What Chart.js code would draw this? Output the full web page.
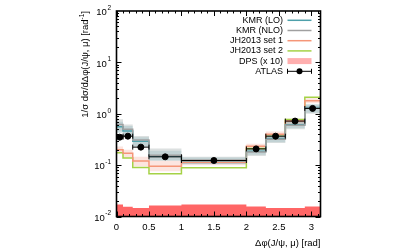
<!DOCTYPE html>
<html>
<head>
<meta charset="utf-8">
<script src="https://cdn.jsdelivr.net/npm/chart.js@4/dist/chart.umd.min.js"></script>
<style>
html,body{margin:0;padding:0;background:#fff;}
#wrap{width:414px;height:249px;}
</style>
</head>
<body>
<div id="wrap"><canvas id="c" width="414" height="249"></canvas></div>
<script>
// ---- data ----
const binEdges = [0, 0.1, 0.25, 0.5, 1.0, 2.0, 2.3, 2.6, 2.9, 3.1416];
const atlasX   = [0.05, 0.175, 0.375, 0.75, 1.5, 2.15, 2.45, 2.75, 3.02];
const atlasY   = [0.35, 0.366, 0.224, 0.145, 0.123, 0.207, 0.366, 0.72, 1.27];
const atlasErr = [0.02, 0.02, 0.012, 0.008, 0.006, 0.012, 0.02, 0.04, 0.08];
const kmrLO    = [0.56, 0.46, 0.29, 0.15, 0.122, 0.187, 0.33, 0.61, 1.33];
const kmrLOlo  = [0.42, 0.36, 0.23, 0.125, 0.104, 0.16, 0.28, 0.52, 1.05];
const kmrLOhi  = [0.70, 0.58, 0.35, 0.19, 0.14, 0.215, 0.38, 0.70, 1.55];
const kmrNLO   = [0.62, 0.50, 0.31, 0.155, 0.125, 0.18, 0.32, 0.60, 1.28];
const kmrNLOlo = [0.45, 0.37, 0.23, 0.12, 0.105, 0.15, 0.27, 0.50, 1.0];
const kmrNLOhi = [0.78, 0.62, 0.37, 0.21, 0.145, 0.21, 0.37, 0.69, 1.5];
const jh1      = [0.20, 0.17, 0.12, 0.095, 0.114, 0.232, 0.40, 0.72, 1.8];
const jh1lo    = [0.17, 0.14, 0.095, 0.076, 0.10, 0.205, 0.35, 0.64, 1.6];
const jh1hi    = [0.23, 0.20, 0.145, 0.12, 0.13, 0.26, 0.45, 0.80, 2.0];
const jh2      = [0.175, 0.138, 0.09, 0.068, 0.089, 0.21, 0.39, 0.77, 2.1];
const dps      = [0.0171, 0.0154, 0.0147, 0.0163, 0.0171, 0.0156, 0.0147, 0.0147, 0.0156];
const xTickVals = [0, 0.5, 1, 1.5, 2, 2.5, 3];
const xTickText = ['0', '0.5', '1', '1.5', '2', '2.5', '3'];
const yDecades  = [-2, -1, 0, 1, 2];
const legendLabels = ['KMR (LO)', 'KMR (NLO)', 'JH2013 set 1', 'JH2013 set 2', 'DPS (x 10)', 'ATLAS'];

// ---- colours ----
const C_KLO = 'rgb(78,160,170)';
const C_KNLO = 'rgb(160,160,160)';
const C_JH1 = 'rgb(245,150,120)';
const C_JH2 = 'rgb(165,210,70)';
const C_DPS = 'rgb(255,102,102)';
const FONT = '"Liberation Sans", Arial, sans-serif';

function hist(vals){
  return binEdges.map((e,i)=>({x:e, y: vals[Math.min(i, vals.length-1)]}));
}
function line(label, vals, color, order){
  return {type:'line', label, data:hist(vals), stepped:'before', borderColor:color,
    borderWidth:1.5, pointRadius:0, fill:false, order};
}
function band(vals, order, color, target){
  return {type:'line', data:hist(vals), stepped:'before', borderWidth:0, borderColor:'rgba(0,0,0,0)',
    pointRadius:0, fill: target===undefined?false:{target:target}, backgroundColor:color, order};
}

const datasets = [
  // 0 ATLAS
  {type:'scatter', label:'ATLAS', data: atlasX.map((x,i)=>({x, y:atlasY[i]})),
   backgroundColor:'#000', borderColor:'#000', pointRadius:3, order:0},
  line('KMR (LO)', kmrLO, C_KLO, 2),            // 1
  line('KMR (NLO)', kmrNLO, C_KNLO, 1),         // 2
  line('JH2013 set 1', jh1, C_JH1, 3),          // 3
  line('JH2013 set 2', jh2, C_JH2, 4),          // 4
  // 5 DPS
  {type:'line', label:'DPS (x 10)', data:hist(dps), stepped:'before', borderWidth:0,
   borderColor:C_DPS, pointRadius:0, fill:'start', backgroundColor:C_DPS, order:5},
  band(kmrNLOhi, 6, 'rgba(120,135,135,0.26)', 7),  // 6
  band(kmrNLOlo, 6),                                // 7
  band(kmrLOhi, 7, 'rgba(78,160,170,0.2)', 9),      // 8
  band(kmrLOlo, 7),                                 // 9
  band(jh1hi, 8, 'rgba(245,150,130,0.25)', 11),     // 10
  band(jh1lo, 8)                                    // 11
];

const frame = {
  id:'frame',
  afterDatasetsDraw(chart){
    const ctx = chart.ctx, a = chart.chartArea;
    const xs = chart.scales.x, ys = chart.scales.y;
    ctx.save();
    // ATLAS error bars
    ctx.strokeStyle = '#000'; ctx.lineWidth = 1;
    atlasX.forEach((x,i)=>{
      const x0 = xs.getPixelForValue(binEdges[i]), x1 = xs.getPixelForValue(binEdges[i+1]);
      const py = ys.getPixelForValue(atlasY[i]);
      const px = xs.getPixelForValue(x);
      ctx.beginPath();
      ctx.moveTo(x0, py); ctx.lineTo(x1, py);
      ctx.moveTo(x0, py-2.5); ctx.lineTo(x0, py+2.5);
      ctx.moveTo(x1, py-2.5); ctx.lineTo(x1, py+2.5);
      ctx.moveTo(px, ys.getPixelForValue(atlasY[i]+atlasErr[i]));
      ctx.lineTo(px, ys.getPixelForValue(atlasY[i]-atlasErr[i]));
      ctx.stroke();
    });
    // ticks
    ctx.lineWidth = 1;
    ctx.beginPath();
    for (let d=-2; d<2; d++){
      for (let m=1; m<=9; m++){
        const v = m*Math.pow(10,d);
        const py = Math.round(ys.getPixelForValue(v))+0.5;
        const L = m===1 ? 5 : 2.5;
        ctx.moveTo(a.left, py); ctx.lineTo(a.left+L, py);
        ctx.moveTo(a.right, py); ctx.lineTo(a.right-L, py);
      }
    }
    for (let k=0; k<=31; k++){
      const v = k/10;
      const px = Math.round(xs.getPixelForValue(v))+0.5;
      const L = (k%5===0) ? 5 : 2.5;
      ctx.moveTo(px, a.bottom); ctx.lineTo(px, a.bottom-L);
      ctx.moveTo(px, a.top); ctx.lineTo(px, a.top+L);
    }
    ctx.stroke();
    // frame
    ctx.lineWidth = 1.6;
    ctx.strokeRect(a.left, a.top, a.right-a.left, a.bottom-a.top);

    // y tick labels
    ctx.fillStyle = '#000';
    yDecades.forEach(d=>{
      const py = ys.getPixelForValue(Math.pow(10,d));
      const sup = d<0 ? '-' + (-d) : String(d);
      ctx.font = '6.5px ' + FONT;
      const sw = ctx.measureText(sup).width;
      ctx.textAlign = 'right'; ctx.textBaseline = 'middle';
      ctx.fillText(sup, 111, py-3);
      ctx.font = '9.5px ' + FONT;
      ctx.fillText('10', 111 - sw - 0.5, py+1.5);
    });
    // x tick labels
    ctx.font = '9.5px ' + FONT;
    ctx.textAlign = 'center'; ctx.textBaseline = 'middle';
    xTickVals.forEach((v,i)=>{
      ctx.fillText(xTickText[i], xs.getPixelForValue(v), 227);
    });
    // x title
    ctx.textAlign = 'right';
    ctx.fillText('Δφ(J/ψ, μ) [rad]', a.right, 243);
    // y title
    ctx.save();
    ctx.translate(85, 11);
    ctx.rotate(-Math.PI/2);
    ctx.textAlign = 'right'; ctx.textBaseline = 'middle';
    ctx.font = '9.5px ' + FONT;
    const rb = ctx.measureText(']').width;
    ctx.fillText(']', 0, 0);
    ctx.font = '6.5px ' + FONT;
    ctx.fillText('-1', -rb, -3);
    const supw = ctx.measureText('-1').width;
    ctx.font = '9.5px ' + FONT;
    ctx.fillText('1/σ dσ/dΔφ(J/ψ, μ) [rad', -rb - supw, 0);
    ctx.restore();

    // legend
    ctx.font = '9px ' + FONT;
    ctx.textAlign = 'right'; ctx.textBaseline = 'middle';
    const rows = [20.3, 30.5, 40.7, 50.9, 61.1, 71.3];
    const cols = [C_KLO, C_KNLO, C_JH1, C_JH2];
    const sx0 = 287.5, sx1 = 311.5;
    legendLabels.forEach((t,i)=>{
      const y = rows[i];
      ctx.fillStyle = '#000';
      ctx.fillText(t, 283, y);
      if (i<4){
        ctx.strokeStyle = cols[i]; ctx.lineWidth = 1.5;
        ctx.beginPath(); ctx.moveTo(sx0, y); ctx.lineTo(sx1, y); ctx.stroke();
      } else if (i===4){
        ctx.fillStyle = 'rgb(255,175,175)';
        ctx.fillRect(sx0, y-3, sx1-sx0, 6);
      } else {
        ctx.strokeStyle = '#000'; ctx.lineWidth = 1;
        ctx.beginPath();
        ctx.moveTo(sx0, y); ctx.lineTo(sx1, y);
        ctx.moveTo(sx0, y-2.5); ctx.lineTo(sx0, y+2.5);
        ctx.moveTo(sx1, y-2.5); ctx.lineTo(sx1, y+2.5);
        ctx.stroke();
        ctx.fillStyle = '#000';
        ctx.beginPath(); ctx.arc((sx0+sx1)/2, y, 3, 0, Math.PI*2); ctx.fill();
      }
    });
    ctx.restore();
  }
};

new Chart(document.getElementById('c'), {
  data: {datasets},
  options: {
    responsive:false, animation:false, devicePixelRatio:1,
    layout:{padding:{left:0, right:93.5, top:11, bottom:0}},
    plugins:{legend:{display:false}, tooltip:{enabled:false}},
    scales:{
      x:{type:'linear', min:0, max:3.1416,
         grid:{display:false}, border:{display:false},
         ticks:{display:false},
         afterFit(s){ s.height = 32.5; }},
      y:{type:'logarithmic', min:0.01, max:100,
         grid:{display:false}, border:{display:false},
         ticks:{display:false},
         afterFit(s){ s.width = 116.5; }}
    }
  },
  plugins:[frame]
});
</script>
</body>
</html>
